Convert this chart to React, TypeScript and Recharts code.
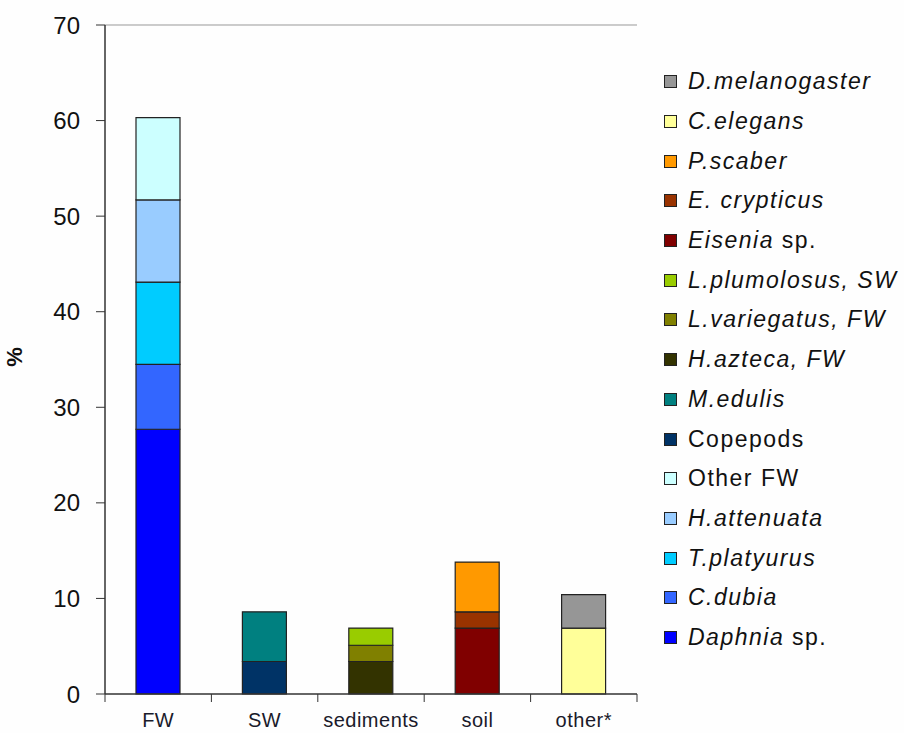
import React from "react";
import {
  BarChart,
  Bar,
  XAxis,
  YAxis,
  ReferenceLine,
} from "recharts";

const categories = ["FW", "SW", "sediments", "soil", "other*"];

// stack order, bottom to top
const seriesNames = [
  "Daphnia", "C.dubia", "T.platyurus", "H.attenuata", "Other FW",
  "Copepods", "M.edulis",
  "H.azteca", "L.variegatus", "L.plumolosus",
  "Eisenia", "E.crypticus", "P.scaber",
  "C.elegans", "D.melanogaster",
];

// values per category: FW, SW, sediments, soil, other*
const daphnia = [27.7, 0, 0, 0, 0];
const cDubia = [6.8, 0, 0, 0, 0];
const tPlatyurus = [8.6, 0, 0, 0, 0];
const hAttenuata = [8.6, 0, 0, 0, 0];
const otherFW = [8.6, 0, 0, 0, 0];
const copepods = [0, 3.4, 0, 0, 0];
const mEdulis = [0, 5.2, 0, 0, 0];
const hAzteca = [0, 0, 3.4, 0, 0];
const lVariegatus = [0, 0, 1.7, 0, 0];
const lPlumolosus = [0, 0, 1.8, 0, 0];
const eisenia = [0, 0, 0, 6.9, 0];
const eCrypticus = [0, 0, 0, 1.7, 0];
const pScaber = [0, 0, 0, 5.2, 0];
const cElegans = [0, 0, 0, 0, 6.9];
const dMelanogaster = [0, 0, 0, 0, 3.5];

const seriesValues = [
  daphnia, cDubia, tPlatyurus, hAttenuata, otherFW,
  copepods, mEdulis,
  hAzteca, lVariegatus, lPlumolosus,
  eisenia, eCrypticus, pScaber,
  cElegans, dMelanogaster,
];

const colors = [
  "#0000FF", "#3366FF", "#00CCFF", "#99CCFF", "#CCFFFF",
  "#003366", "#008080",
  "#333300", "#808000", "#99CC00",
  "#800000", "#993300", "#FF9900",
  "#FFFF99", "#969696",
];

// legend text: [italic part, upright part]
const legendLabels: [string, string][] = [
  ["Daphnia", " sp."],
  ["C.dubia", ""],
  ["T.platyurus", ""],
  ["H.attenuata", ""],
  ["", "Other FW"],
  ["", "Copepods"],
  ["M.edulis", ""],
  ["H.azteca, FW", ""],
  ["L.variegatus, FW", ""],
  ["L.plumolosus, SW", ""],
  ["Eisenia", " sp."],
  ["E. crypticus", ""],
  ["P.scaber", ""],
  ["C.elegans", ""],
  ["D.melanogaster", ""],
];

const yTicks = [0, 10, 20, 30, 40, 50, 60, 70];

const data = categories.map((cat, i) => {
  const row: Record<string, any> = { cat };
  seriesNames.forEach((name, s) => {
    row[name] = seriesValues[s][i];
  });
  return row;
});

const W = 904;
const H = 733;
const plotLeft = 105;
const plotRight = 637;
const plotTop = 25;
const plotBottom = 694;
const band = (plotRight - plotLeft) / categories.length;
const font = "'Liberation Sans', Arial, sans-serif";

const CategoryTick = (props: any) => {
  const { x, payload, index } = props;
  return (
    <g>
      <line x1={x - band / 2} y1={plotBottom} x2={x - band / 2} y2={plotBottom + 8} stroke="#333" />
      {index === categories.length - 1 && (
        <line x1={x + band / 2} y1={plotBottom} x2={x + band / 2} y2={plotBottom + 8} stroke="#333" />
      )}
      <text
        x={x}
        y={727}
        textAnchor="middle"
        fontSize={20}
        letterSpacing={0.5}
        fill="#1a1a2a"
        fontFamily={font}
      >
        {payload.value}
      </text>
    </g>
  );
};

export default function App() {
  return (
    <div style={{ position: "absolute", left: 0, top: 0, width: W, height: H, background: "#fefefe" }}>
      <BarChart
        width={W}
        height={H}
        data={data}
        margin={{ top: plotTop, right: W - plotRight, bottom: 0, left: 0 }}
        barCategoryGap={0}
      >
        <XAxis
          dataKey="cat"
          axisLine={{ stroke: "#333", strokeWidth: 1.5 }}
          tickLine={false}
          tick={<CategoryTick />}
          height={H - plotBottom}
          interval={0}
        />
        <YAxis
          domain={[0, 70]}
          ticks={yTicks}
          width={plotLeft}
          axisLine={{ stroke: "#333", strokeWidth: 1.5 }}
          tickLine={{ stroke: "#333" }}
          tickSize={9}
          tickMargin={16}
          tick={{ fontSize: 24, fill: "#111", fontFamily: font }}
          label={{
            content: () => (
              <text
                x={22}
                y={357}
                transform="rotate(-90 22 357)"
                textAnchor="middle"
                fontSize={22}
                fontWeight="bold"
                fill="#111"
                fontFamily={font}
              >
                %
              </text>
            ),
          }}
        />
        <YAxis
          yAxisId="border"
          orientation="right"
          width={0}
          tick={false}
          tickLine={false}
          axisLine={{ stroke: "#999" }}
        />
        <ReferenceLine y={70} stroke="#999" ifOverflow="extendDomain" />
        {seriesNames.map((name, s) => (
          <Bar
            key={name}
            dataKey={name}
            stackId="a"
            fill={colors[s]}
            stroke="#222"
            strokeWidth={1.2}
            barSize={44}
            isAnimationActive={false}
          />
        ))}
      </BarChart>
      <div style={{ position: "absolute", left: 664, top: 62, fontFamily: font }}>
        {legendLabels
          .map((lab, s) => ({ lab, s }))
          .reverse()
          .map(({ lab, s }) => (
            <div
              key={s}
              style={{ display: "flex", alignItems: "center", height: 39.7 }}
            >
              <span
                style={{
                  display: "inline-block",
                  width: 11,
                  height: 11,
                  background: colors[s],
                  border: "1px solid #222",
                  marginRight: 11,
                }}
              />
              <span style={{ fontSize: 23, letterSpacing: 1.5, color: "#111", whiteSpace: "nowrap" }}>
                {lab[0] && <i>{lab[0]}</i>}
                {lab[1]}
              </span>
            </div>
          ))}
      </div>
    </div>
  );
}
